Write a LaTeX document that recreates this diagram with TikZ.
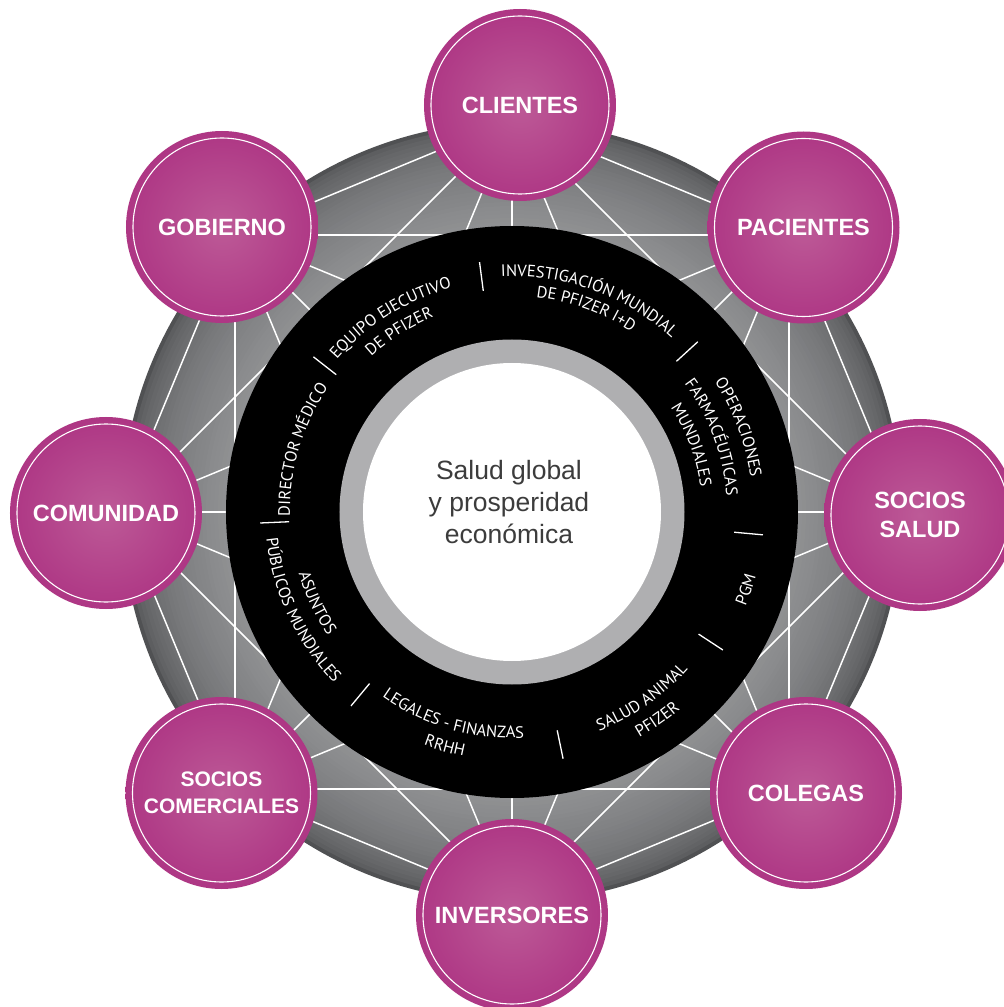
\documentclass[tikz,border=0pt]{standalone}
\usepackage{fontspec}
\setmainfont{Liberation Sans}
\newfontfamily\ringfont{PT Sans}
\usetikzlibrary{decorations.text}
\definecolor{purpEdge}{HTML}{9E186E}
\definecolor{purpMid}{HTML}{AC3282}
\definecolor{purpHi}{HTML}{BD5A97}
\definecolor{grayIn}{HTML}{909193}
\definecolor{grayOut}{HTML}{505153}
\definecolor{ringGray}{HTML}{AFAFB1}
\definecolor{centerText}{HTML}{3C3C3C}
\pgfdeclareradialshading{purpball}{\pgfpoint{0bp}{0bp}}{color(0bp)=(purpHi); color(28bp)=(purpMid); color(50bp)=(purpEdge)}
\newcommand\rf{\ringfont\fontsize{16.5}{18}\selectfont}
\newcommand\cwtext[3]{\path[ringtext={|\rf|#3}] ({#1+50}:#2) arc[start angle={#1+50}, end angle={#1-50}, radius=#2];}
\newcommand\ccwtext[3]{\path[ringtext={|\rf|#3}] ({#1-50}:#2) arc[start angle={#1-50}, end angle={#1+50}, radius=#2];}
\tikzset{
  stake/.style={circle, shading=purpball, minimum size=192pt, inner sep=0pt, text=white,
    font=\fontsize{23.5}{29}\selectfont\bfseries, align=center},
  web/.style={white, line width=1.5pt},
  sepline/.style={white, line width=1.3pt},
  ringtext/.style={decorate, decoration={text along path, text align=center, text color=white, text={#1}}},
  innerline/.style={white, line width=1.1pt}
}
\begin{document}
\begin{tikzpicture}[x=1pt,y=1pt]
\useasboundingbox (-512,-495) rectangle (492,512);
\fill[white] (-512,-495) rectangle (492,512);
% big gray disc with a radial gradient, dark at the rim
\foreach \k in {0,...,26} {
  \pgfmathsetmacro\r{390-4*\k}
  \pgfmathtruncatemacro\p{round(100*sqrt(\k/26))}
  \fill[grayIn!\p!grayOut] (0,0) circle[radius=\r];
}
% web of white lines
\foreach \i in {0,...,7} \coordinate (w\i) at ({90-45*\i}:392);
\foreach \i in {0,...,6} {
  \pgfmathtruncatemacro\s{\i+1}
  \foreach \j in {\s,...,7} \draw[web] (w\i) -- (w\j);
}
% rings
\fill[black] (0,0) circle[radius=286];
\fill[ringGray] (0,0) circle[radius=172.5];
\fill[white] (0,0) circle[radius=149];
\node[font=\fontsize{26.5}{32}\selectfont, text=centerText, align=center] (core) at (-3,10) {Salud global\\y prosperidad\\económica};
% separators
\foreach \a in {182.5,142,97.4,42.5,-5.2,-33.2,-78.3,-129.7}
  \draw[sepline] (\a:223) -- (\a:252);
% ring texts (clockwise, tops outward)
\cwtext{163.5}{222}{DIRECTOR MÉDICO}
\cwtext{122}{232}{EQUIPO EJECUTIVO}
\cwtext{122}{210}{DE PFIZER}
\cwtext{70}{236}{INVESTIGACIÓN MUNDIAL}
\cwtext{70}{216}{DE PFIZER I+D}
\cwtext{20.5}{241}{OPERACIONES}
\cwtext{20.5}{215}{FARMACÉUTICAS}
\cwtext{20.5}{190}{MUNDIALES}
% ring texts (counter-clockwise, tops inward)
\ccwtext{-18.3}{252}{PGM}
\ccwtext{-55}{236}{SALUD ANIMAL}
\ccwtext{-55}{259}{PFIZER}
\ccwtext{-106}{226}{LEGALES - FINANZAS}
\ccwtext{-106}{249}{RRHH}
\ccwtext{-155}{222}{ASUNTOS}
\ccwtext{-155}{247}{PÚBLICOS MUNDIALES}
% stakeholder circles
\node[stake] (clientes) at (8,407) {CLIENTES};
\node[stake] (pacientes) at (291.5,284.5) {PACIENTES};
\node[stake] (sociossalud) at (408,-3) {SOCIOS\\SALUD};
\node[stake] (colegas) at (294,-281) {COLEGAS};
\node[stake] (inversores) at (0,-403) {INVERSORES};
\node[stake, font=\fontsize{21}{27}\selectfont\bfseries] (socioscom) at (-290.5,-281) {SOCIOS\\COMERCIALES};
\node[stake] (comunidad) at (-406,-1) {COMUNIDAD};
\node[stake] (gobierno) at (-290,285) {GOBIERNO};
\foreach \n in {clientes,pacientes,sociossalud,colegas,inversores,socioscom,comunidad,gobierno}
  \draw[innerline] (\n.center) circle[radius=89];
\end{tikzpicture}
\end{document}
